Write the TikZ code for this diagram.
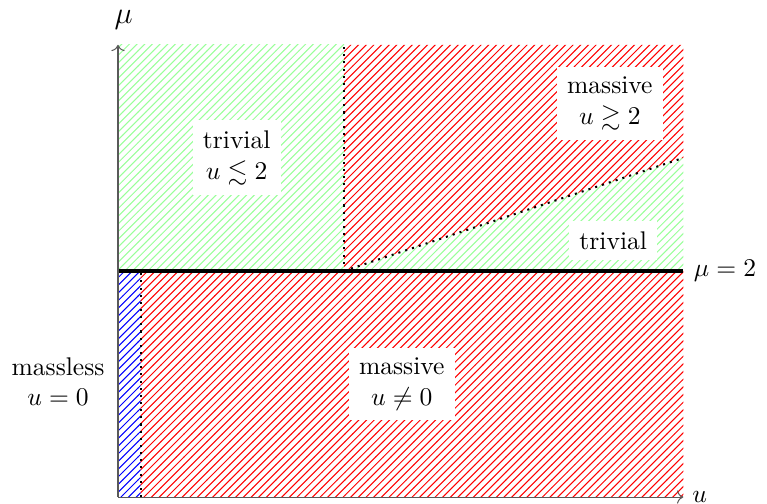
\documentclass[tikz,border=0pt]{standalone}
\usepackage{amssymb}
\usepackage{tikz}
\usetikzlibrary{patterns, arrows.meta, positioning}

\begin{document}
\begin{tikzpicture}[
  x=1.5555cm, y=1.5555cm,
  hatch/.style={pattern=north east lines, pattern color=#1},
  axis/.style={->, gray!70!black, thin},
  border/.style={dotted, thick},
  critical/.style={line width=1.6pt},
  regionlabel/.style={fill=white, align=center, inner sep=4pt}
]
\useasboundingbox (-1.0436,-0.053) rectangle (5.740,4.396);

% Points
\coordinate (O) at (0,0);
\coordinate (xend) at (5,0);
\coordinate (yend) at (0,4);
\coordinate (crit) at (0,2);
\coordinate (critend) at (5,2);
\coordinate (split) at (2,2);
\coordinate (splittop) at (2,4);
\coordinate (slopeend) at (5,3);
\coordinate (gapbot) at (0.2,0);
\coordinate (gaptop) at (0.2,2);

% Regions
\fill[hatch=green!40] (crit) rectangle (splittop);
\fill[hatch=red] (split) -- (slopeend) -- (5,4) -- (splittop) -- cycle;
\fill[hatch=green!40] (split) -- (critend) -- (slopeend) -- cycle;
\fill[hatch=blue] (O) rectangle (gaptop);
\fill[hatch=red] (gapbot) rectangle (critend);

% Boundaries
\draw[border] (split) -- (splittop);
\draw[border] (split) -- (slopeend);
\draw[border] (gapbot) -- (gaptop);
\draw[critical] (crit) -- (critend) node[right] (critlabel) {$\mu = 2$};

% Axes
\draw[axis] (O) -- (xend);
\draw[axis] (O) -- (yend);
\node[right=0pt of xend] (ulabel) {$u$};
\node[font=\large] (mulabel) at (0.05,4.22) {$\mu$};

% Labels
\node[regionlabel] (trivtop) at (1.05,3.0) {trivial\\$u \lesssim 2$};
\node[regionlabel] (masstop) at (4.35,3.48) {massive\\$u \gtrsim 2$};
\node[regionlabel] (trivwedge) at (4.38,2.27) {trivial};
\node[regionlabel] (massbot) at (2.51,1.0) {massive\\$u \neq 0$};
\node[align=center] (massless) at (-0.53,1.02) {massless\\$u = 0$};

\end{tikzpicture}
\end{document}
